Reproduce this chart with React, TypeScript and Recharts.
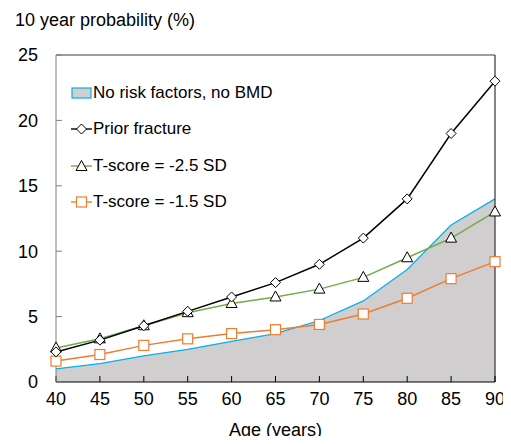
import {
  Area,
  ComposedChart,
  Line,
  ReferenceLine,
  XAxis,
  YAxis,
} from "recharts";

const ages = [40, 45, 50, 55, 60, 65, 70, 75, 80, 85, 90];
const noRisk = [1.0, 1.4, 2.0, 2.5, 3.1, 3.7, 4.7, 6.2, 8.6, 12.0, 14.0];
const priorFracture = [2.3, 3.2, 4.3, 5.4, 6.5, 7.6, 9.0, 11.0, 14.0, 19.0, 23.0];
const tScore25 = [2.6, 3.3, 4.3, 5.3, 6.0, 6.5, 7.1, 8.0, 9.5, 11.0, 13.0];
const tScore15 = [1.6, 2.1, 2.8, 3.3, 3.7, 4.0, 4.4, 5.2, 6.4, 7.9, 9.2];
const xTicks = [40, 45, 50, 55, 60, 65, 70, 75, 80, 85, 90];
const yTicks = [0, 5, 10, 15, 20, 25];

const data = ages.map((age, i) => ({
  age,
  noRisk: noRisk[i],
  prior: priorFracture[i],
  t25: tScore25[i],
  t15: tScore15[i],
}));

const FONT = "'Liberation Sans', Arial, sans-serif";

const Diamond = (props: any) => {
  const { cx, cy } = props;
  if (cx == null || cy == null) return null;
  return (
    <path
      d={`M${cx},${cy - 5}L${cx + 5},${cy}L${cx},${cy + 5}L${cx - 5},${cy}Z`}
      fill="#fff"
      stroke="#000"
      strokeWidth={1}
    />
  );
};

const Triangle = (props: any) => {
  const { cx, cy } = props;
  if (cx == null || cy == null) return null;
  return (
    <path
      d={`M${cx},${cy - 6}L${cx + 5.5},${cy + 4}L${cx - 5.5},${cy + 4}Z`}
      fill="#fff"
      stroke="#000"
      strokeWidth={1}
    />
  );
};

const Square = (props: any) => {
  const { cx, cy } = props;
  if (cx == null || cy == null) return null;
  return (
    <rect x={cx - 5} y={cy - 5} width={10} height={10} fill="#fff" stroke="#ed7d31" strokeWidth={1.2} />
  );
};

const legendItems = [
  { label: "No risk factors, no BMD", kind: "area" },
  { label: "Prior fracture", kind: "diamond", color: "#000" },
  { label: "T-score = -2.5 SD", kind: "triangle", color: "#70ad47" },
  { label: "T-score = -1.5 SD", kind: "square", color: "#ed7d31" },
];

const LegendBox = () => (
  <div style={{ fontFamily: FONT, fontSize: 17, color: "#000" }}>
    {legendItems.map((it) => (
      <div key={it.label} style={{ display: "flex", alignItems: "center", height: 36.3 }}>
        <svg width={22} height={14}>
          {it.kind === "area" ? (
            <rect x={1} y={2} width={19} height={10} fill="#d0cece" stroke="#00b0f0" strokeWidth={1.2} />
          ) : (
            <>
              <line x1={0} y1={7} x2={21} y2={7} stroke={it.color} strokeWidth={1.4} />
              {it.kind === "diamond" && <Diamond cx={10.5} cy={7} />}
              {it.kind === "triangle" && <Triangle cx={10.5} cy={7.5} />}
              {it.kind === "square" && <Square cx={10.5} cy={7} />}
            </>
          )}
        </svg>
        <span>{it.label}</span>
      </div>
    ))}
  </div>
);

export default function App() {
  return (
    <div style={{ position: "relative", width: 511, height: 444, margin: -8, background: "#fff", overflow: "hidden" }}>
      <ComposedChart
        width={511}
        height={444}
        data={data}
        margin={{ top: 55, right: 16, left: 0, bottom: 0 }}
      >
        <XAxis
          dataKey="age"
          type="number"
          domain={[40, 90]}
          ticks={xTicks}
          interval={0}
          tickSize={-6}
          tickMargin={16}
          stroke="#000"
          tick={{ fill: "#000", fontSize: 18, fontFamily: FONT }}
          height={62}
        />
        <YAxis
          type="number"
          domain={[0, 25]}
          ticks={yTicks}
          interval={0}
          width={56}
          tickSize={-6}
          tickMargin={24}
          stroke="#7f7f7f"
          tick={{ fill: "#000", fontSize: 18, fontFamily: FONT }}
        />
        <ReferenceLine y={25} stroke="#7f7f7f" strokeWidth={1.5} />
        <ReferenceLine x={90} stroke="#333" strokeWidth={1.2} />
        <Area
          type="linear"
          dataKey="noRisk"
          fill="#d0cece"
          fillOpacity={1}
          stroke="#00b0f0"
          strokeWidth={1.2}
          isAnimationActive={false}
        />
        <Line
          type="linear"
          dataKey="t15"
          stroke="#ed7d31"
          strokeWidth={1.5}
          dot={<Square />}
          isAnimationActive={false}
        />
        <Line
          type="linear"
          dataKey="t25"
          stroke="#70ad47"
          strokeWidth={1.5}
          dot={<Triangle />}
          isAnimationActive={false}
        />
        <Line
          type="linear"
          dataKey="prior"
          stroke="#000"
          strokeWidth={1.5}
          dot={<Diamond />}
          isAnimationActive={false}
        />
      </ComposedChart>
      <div
        style={{
          position: "absolute",
          left: 15,
          top: 10,
          fontFamily: FONT,
          fontSize: 18,
          color: "#000",
        }}
      >
        10 year probability (%)
      </div>
      <div
        style={{
          position: "absolute",
          left: 56,
          width: 439,
          top: 420,
          textAlign: "center",
          fontFamily: FONT,
          fontSize: 18,
          color: "#000",
        }}
      >
        Age (years)
      </div>
      <div style={{ position: "absolute", left: 71, top: 75 }}>
        <LegendBox />
      </div>
    </div>
  );
}
